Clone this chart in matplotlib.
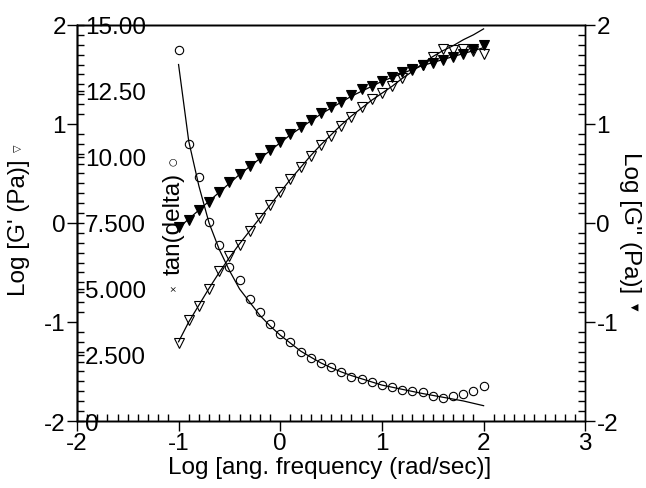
import matplotlib
matplotlib.use("Agg")
import matplotlib.pyplot as plt
from matplotlib.ticker import MultipleLocator, FixedLocator, FixedFormatter

plt.rcParams['font.family'] = ['Liberation Sans', 'DejaVu Sans']
plt.rcParams['axes.unicode_minus'] = False

# log angular frequency, -1.0 .. 2.0 in 0.1 steps
log_freq = [-1.0, -0.9, -0.8, -0.7, -0.6, -0.5, -0.4, -0.3, -0.2, -0.1,
            0.0, 0.1, 0.2, 0.3, 0.4, 0.5, 0.6, 0.7, 0.8, 0.9,
            1.0, 1.1, 1.2, 1.3, 1.4, 1.5, 1.6, 1.7, 1.8, 1.9, 2.0]

# Log G' (open triangles, left axis)
g_prime = [-1.21, -0.98, -0.84, -0.67, -0.49, -0.33, -0.22, -0.08, 0.05, 0.18,
           0.31, 0.44, 0.57, 0.68, 0.79, 0.88, 0.98, 1.07, 1.17, 1.25,
           1.31, 1.38, 1.46, 1.54, 1.60, 1.68, 1.76, 1.75, 1.76, 1.74, 1.71]
g_prime_fit = [-1.20, -1.00, -0.83, -0.66, -0.50, -0.35, -0.21, -0.08, 0.05, 0.18,
               0.31, 0.44, 0.56, 0.68, 0.79, 0.89, 0.99, 1.08, 1.16, 1.24,
               1.31, 1.38, 1.46, 1.53, 1.61, 1.68, 1.74, 1.79, 1.85, 1.90, 1.96]

# Log G'' (filled triangles, right axis)
g_dprime = [-0.04, 0.03, 0.13, 0.21, 0.31, 0.41, 0.49, 0.58, 0.66, 0.74,
            0.82, 0.90, 0.97, 1.04, 1.11, 1.17, 1.22, 1.29, 1.35, 1.38,
            1.43, 1.47, 1.52, 1.55, 1.60, 1.62, 1.65, 1.68, 1.71, 1.76, 1.80]
g_dprime_fit = [-0.05, 0.04, 0.13, 0.22, 0.31, 0.40, 0.49, 0.57, 0.65, 0.73,
                0.81, 0.89, 0.96, 1.03, 1.10, 1.16, 1.22, 1.28, 1.33, 1.38,
                1.43, 1.47, 1.51, 1.55, 1.59, 1.62, 1.65, 1.68, 1.71, 1.74, 1.77]

# tan(delta) (open circles, inner axis)
tan_delta = [14.05, 10.5, 9.24, 7.54, 6.67, 5.83, 5.34, 4.62, 4.13, 3.67,
             3.30, 2.99, 2.61, 2.39, 2.20, 2.05, 1.86, 1.67, 1.59, 1.48,
             1.36, 1.29, 1.17, 1.14, 1.10, 0.95, 0.87, 0.95, 1.02, 1.14, 1.33]
tan_delta_fit = [13.5, 10.6, 8.9, 7.5, 6.5, 5.7, 5.0, 4.5, 4.0, 3.6,
                 3.25, 2.95, 2.65, 2.42, 2.2, 2.02, 1.86, 1.72, 1.6, 1.48,
                 1.36, 1.28, 1.2, 1.12, 1.04, 0.97, 0.9, 0.83, 0.76, 0.67, 0.58]

tan_ticks = [0, 2.5, 5, 7.5, 10, 12.5, 15]
tan_labels = ["0", "2.500", "5.000", "7.500", "10.00", "12.50", "15.00"]

fig = plt.figure(figsize=(6.46, 4.89), dpi=100)
ax = fig.add_axes([0.119, 0.137, 0.787, 0.810])
ax2 = ax.twinx()   # G''
ax3 = ax.twinx()   # tan(delta), spine sits on the left
ax3.spines['right'].set_position(('axes', 0))

fs = 17.5
ax.set_xlim(-2, 3)
ax.set_ylim(-2, 2)
ax2.set_ylim(-2, 2)
ax3.set_ylim(0, 15)

for a in (ax, ax2, ax3):
    for s in a.spines.values():
        s.set_linewidth(1.0)

ax.xaxis.set_major_locator(MultipleLocator(1))
ax.xaxis.set_minor_locator(MultipleLocator(0.1))
ax.yaxis.set_major_locator(MultipleLocator(1))
ax.yaxis.set_minor_locator(MultipleLocator(0.1))
ax2.yaxis.set_major_locator(MultipleLocator(1))
ax2.yaxis.set_minor_locator(MultipleLocator(0.1))
ax3.yaxis.set_major_locator(FixedLocator(tan_ticks))
ax3.yaxis.set_major_formatter(FixedFormatter(tan_labels))

ax.tick_params(axis='both', which='major', direction='out', length=7, width=1,
               labelsize=fs, pad=1, top=False)
ax.tick_params(axis='both', which='minor', direction='in', length=5, width=1, top=False)
ax2.tick_params(axis='y', which='major', direction='out', length=7, width=1,
                labelsize=fs, pad=1)
ax2.tick_params(axis='y', which='minor', direction='in', length=5, width=1)
ax3.tick_params(axis='y', which='major', direction='out', length=5, width=1,
                labelsize=fs, pad=1)

# fit lines
ax.plot(log_freq, g_prime_fit, color='black', lw=0.9)
ax2.plot(log_freq, g_dprime_fit, color='black', lw=0.9)
ax3.plot(log_freq, tan_delta_fit, color='black', lw=0.9)

# data markers
ax.plot(log_freq, g_prime, linestyle='none', marker='v', markersize=6.5,
        markerfacecolor='none', markeredgecolor='black', markeredgewidth=0.8)
ax2.plot(log_freq, g_dprime, linestyle='none', marker='v', markersize=6.5,
         markerfacecolor='black', markeredgecolor='black', markeredgewidth=0.8)
ax3.plot(log_freq, tan_delta, linestyle='none', marker='o', markersize=6,
         markerfacecolor='none', markeredgecolor='black', markeredgewidth=0.8)

for a in (ax, ax2, ax3):
    a.set_xlim(-2, 3)

# axis labels
fig.text(0.511, 0.043, "Log [ang. frequency (rad/sec)]", ha='center', va='center', fontsize=fs)
fig.text(0.030, 0.535, "Log [G' (Pa)]", rotation=90, ha='center', va='center', fontsize=fs)
fig.text(0.027, 0.697, "\u25bd", rotation=90, ha='center', va='center', fontsize=7,
         family=['DejaVu Sans'])
fig.text(0.975, 0.545, "Log [G'' (Pa)]", rotation=270, ha='center', va='center', fontsize=fs)
fig.text(0.982, 0.372, "\u25bc", rotation=270, ha='center', va='center', fontsize=7,
         family=['DejaVu Sans'])
fig.text(0.268, 0.543, "tan(delta)", rotation=90, ha='center', va='center', fontsize=fs)
fig.text(0.268, 0.669, "\u25cb", rotation=90, ha='center', va='center', fontsize=7,
         family=['DejaVu Sans'])
fig.text(0.268, 0.413, "\u00d7", rotation=90, ha='center', va='center', fontsize=6,
         family=['DejaVu Sans'])

fig.savefig("out.png", dpi=100)
